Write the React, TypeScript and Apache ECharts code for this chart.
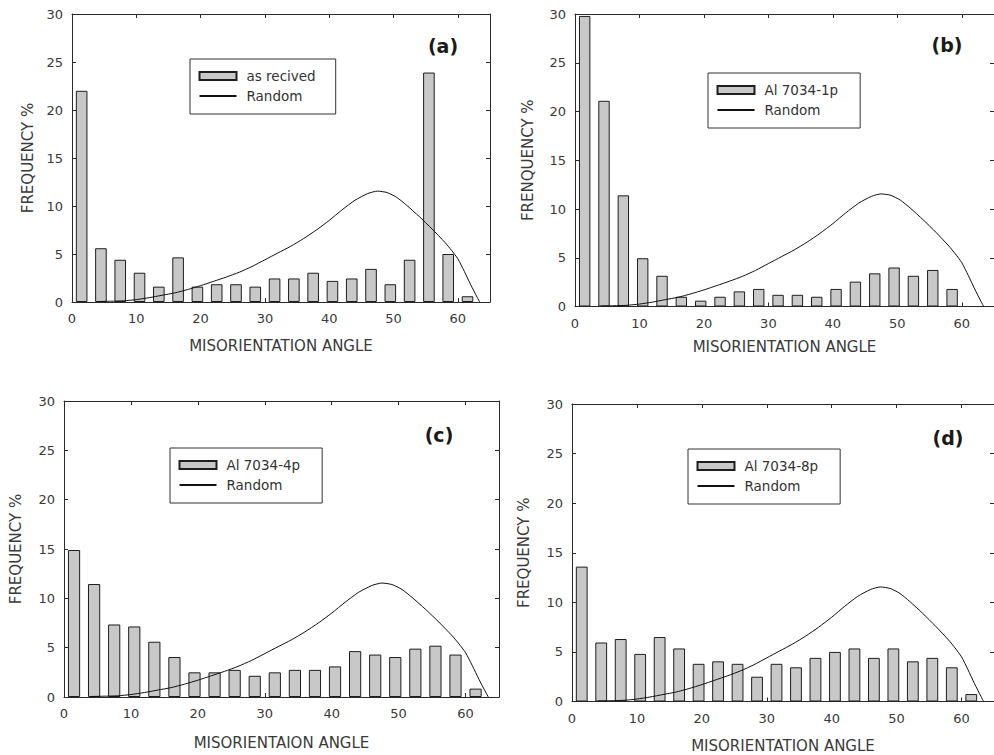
import React, { useEffect, useRef } from "react";
import * as echarts from "echarts";

// ---- data ----
const BIN_CENTERS = [1.5, 4.5, 7.5, 10.5, 13.5, 16.5, 19.5, 22.5, 25.5, 28.5, 31.5, 34.5, 37.5, 40.5, 43.5, 46.5, 49.5, 52.5, 55.5, 58.5, 61.5];
const X_TICKS = [0, 10, 20, 30, 40, 50, 60];
const Y_TICKS = [0, 5, 10, 15, 20, 25, 30];

const AS_RECEIVED = [22, 5.6, 4.4, 3.05, 1.6, 4.65, 1.6, 1.85, 1.85, 1.6, 2.45, 2.45, 3.05, 2.2, 2.45, 3.45, 1.85, 4.4, 23.9, 5.0, 0.6];
const AL_1P = [29.8, 21.1, 11.4, 4.95, 3.15, 1.0, 0.6, 1.0, 1.55, 1.8, 1.2, 1.2, 1.0, 1.8, 2.55, 3.4, 4.0, 3.15, 3.75, 1.8];
const AL_4P = [14.9, 11.45, 7.35, 7.15, 5.6, 4.05, 2.5, 2.5, 2.75, 2.15, 2.5, 2.75, 2.75, 3.1, 4.65, 4.3, 4.05, 4.9, 5.2, 4.3, 0.85];
const AL_8P = [13.6, 5.95, 6.3, 4.8, 6.5, 5.35, 3.8, 4.05, 3.8, 2.5, 3.8, 3.45, 4.4, 5.0, 5.35, 4.4, 5.35, 4.05, 4.4, 3.45, 0.75];

const RANDOM_X = [4, 6, 8, 10, 12, 14, 16, 18, 20, 22, 24, 26, 28, 30, 32, 34, 36, 38, 40, 42, 44, 46, 47.5, 49, 50.5, 52, 54, 56, 58, 59, 60, 61, 62, 63, 63.4];
const RANDOM_Y = [0.05, 0.08, 0.12, 0.25, 0.45, 0.7, 0.95, 1.3, 1.7, 2.15, 2.6, 3.1, 3.7, 4.4, 5.1, 5.8, 6.6, 7.5, 8.5, 9.6, 10.6, 11.3, 11.55, 11.4, 10.9, 10.1, 8.9, 7.6, 6.2, 5.4, 4.5, 3.2, 1.8, 0.5, 0];

const SERIES_NAMES = ["as recived", "Al 7034-1p", "Al 7034-4p", "Al 7034-8p"];
const SERIES_VALUES = [AS_RECEIVED, AL_1P, AL_4P, AL_8P];
const PANEL_LABELS = ["(a)", "(b)", "(c)", "(d)"];
const Y_TITLES = ["FREQUENCY %", "FRENQUENCY %", "FREQUENCY %", "FREQUENCY %"];
const X_TITLES = ["MISORIENTATION ANGLE", "MISORIENTATION ANGLE", "MISORIENTAION ANGLE", "MISORIENTATION ANGLE"];

// ---- layout (pixels) ----
const GRIDS = [
  { left: 72, top: 14, width: 418, height: 288, barW: 11.6, xGap: 36.5, yGap: 37, legend: { left: 190, top: 59, pr: 20 }, label: [443, 46] },
  { left: 575, top: 14, width: 426, height: 292.5, barW: 11.4, xGap: 32.5, yGap: 40, legend: { left: 708, top: 73, pr: 22 }, label: [947, 45] },
  { left: 64, top: 401, width: 435, height: 296, barW: 12.2, xGap: 38, yGap: 40.5, legend: { left: 170, top: 448, pr: 22 }, label: [439, 435] },
  { left: 572, top: 404, width: 430, height: 297.5, barW: 11.8, xGap: 37, yGap: 40.5, legend: { left: 688, top: 449, pr: 22 }, label: [948, 438] },
];

const FONT = "DejaVu Sans";
const AXIS_COLOR = "#2a2a2a";
const TEXT_COLOR = "#3a3a3a";

function buildOption() {
  const grid: any[] = [];
  const xAxis: any[] = [];
  const yAxis: any[] = [];
  const series: any[] = [];
  const legend: any[] = [];
  const graphic: any[] = [];

  GRIDS.forEach((g, i) => {
    grid.push({ left: g.left, top: g.top, width: g.width, height: g.height, containLabel: false, show: false });
    const common = {
      type: "value",
      gridIndex: i,
      min: 0,
      max: 65,
      interval: 10,
      splitLine: { show: false },
      axisLine: { show: true, onZero: false, lineStyle: { color: AXIS_COLOR, width: 1 } },
      axisTick: { show: true, inside: true, length: 4, lineStyle: { color: AXIS_COLOR } },
    };
    xAxis.push({
      ...common,
      position: "bottom",
      axisLabel: { show: true, margin: 10, fontFamily: FONT, fontSize: 13, color: TEXT_COLOR, showMaxLabel: false },
      name: X_TITLES[i],
      nameLocation: "middle",
      nameGap: g.xGap,
      nameTextStyle: { fontFamily: FONT, fontSize: 15, color: TEXT_COLOR },
    });
    xAxis.push({ ...common, position: "top", axisLabel: { show: false } });
    const ycommon = {
      type: "value",
      gridIndex: i,
      min: 0,
      max: 30,
      interval: 5,
      splitLine: { show: false },
      axisLine: { show: true, onZero: false, lineStyle: { color: AXIS_COLOR, width: 1 } },
      axisTick: { show: true, inside: true, length: 4, lineStyle: { color: AXIS_COLOR } },
    };
    yAxis.push({
      ...ycommon,
      position: "left",
      axisLabel: { show: true, margin: 9, fontFamily: FONT, fontSize: 13, color: TEXT_COLOR },
      name: Y_TITLES[i],
      nameLocation: "middle",
      nameGap: g.yGap,
      nameTextStyle: { fontFamily: FONT, fontSize: 15, color: TEXT_COLOR },
    });
    yAxis.push({ ...ycommon, position: "right", axisLabel: { show: false } });

    const vals = SERIES_VALUES[i];
    series.push({
      type: "bar",
      name: SERIES_NAMES[i],
      xAxisIndex: 2 * i,
      yAxisIndex: 2 * i,
      barWidth: g.barW,
      data: vals.map((v, j) => [BIN_CENTERS[j], v]),
      itemStyle: { color: "#c8c8c8", borderColor: "#1e1e1e", borderWidth: 1 },
    });
    series.push({
      type: "line",
      name: "Random",
      xAxisIndex: 2 * i,
      yAxisIndex: 2 * i,
      symbol: "none",
      smooth: 0.2,
      data: RANDOM_X.map((x, j) => [x, RANDOM_Y[j]]),
      itemStyle: { color: "#111" },
      lineStyle: { color: "#111", width: 1 },
      z: 3,
    });

    legend.push({
      orient: "vertical",
      left: g.legend.left,
      top: g.legend.top,
      padding: [10, g.legend.pr, 11, 8.5],
      itemWidth: 37,
      itemHeight: 8,
      itemGap: 6,
      borderColor: "#333",
      borderWidth: 1,
      backgroundColor: "#fff",
      selectedMode: false,
      textStyle: { fontFamily: FONT, fontSize: 13.5, color: "#333", padding: [0, 0, 0, 5] },
      data: [
        { name: SERIES_NAMES[i], icon: "rect" },
        { name: "Random", itemStyle: { opacity: 0 } },
      ],
    });

    graphic.push({
      type: "text",
      x: g.label[0],
      y: g.label[1],
      style: {
        text: PANEL_LABELS[i],
        fontFamily: FONT,
        fontWeight: "bold",
        fontSize: 19,
        fill: "#1a1a1a",
        align: "center",
        verticalAlign: "middle",
      },
    });
  });

  return {
    animation: false,
    backgroundColor: "#fff",
    grid,
    xAxis,
    yAxis,
    series,
    legend,
    graphic,
  };
}

export default function App() {
  const ref = useRef<HTMLDivElement>(null);
  useEffect(() => {
    if (!ref.current) return;
    const chart = echarts.init(ref.current, null, { renderer: "svg" });
    chart.setOption(buildOption() as any);
    return () => chart.dispose();
  }, []);
  return (
    <div
      ref={ref}
      style={{ position: "absolute", left: 0, top: 0, width: 994, height: 755, background: "#fff" }}
    />
  );
}
